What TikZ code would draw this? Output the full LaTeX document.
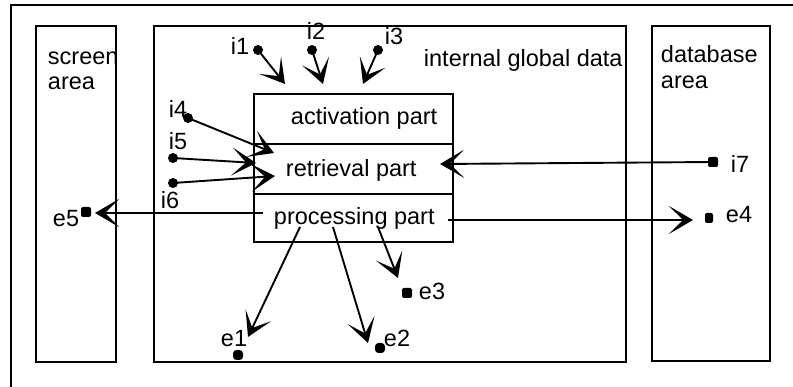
\documentclass[tikz,border=0pt]{standalone}
\usepackage{fontspec}
\setmainfont{Liberation Sans}
\usetikzlibrary{arrows.meta}
\begin{document}
\begin{tikzpicture}[x=1pt,y=-1pt,
  line width=1.9pt,
  box/.style={draw, rectangle, inner sep=0pt, anchor=north west},
  txt/.style={inner sep=0pt, anchor=base west, font=\fontsize{23.5}{26}\selectfont},
  idot/.style={circle, fill, inner sep=0pt, minimum size=10pt},
  edot/.style={rectangle, rounded corners=2pt, fill, inner sep=0pt, minimum size=10pt},
  arr/.style={-{Stealth[length=24pt,width=28pt,inset=14pt]}},
]
\useasboundingbox (0,0) rectangle (793,387);
\draw (11,387) -- (11,5) -- (793,5);
% areas
\node[box, minimum width=80pt, minimum height=336pt] (screen) at (35,25) {};
\node[box, minimum width=472pt, minimum height=336pt] (internal) at (153,25) {};
\node[box, minimum width=118pt, minimum height=335pt] (database) at (651,25) {};
% parts
\node[box, minimum width=199pt, minimum height=50pt] (act) at (253,93) {};
\node[box, minimum width=199pt, minimum height=50pt] (ret) at (253,143) {};
\node[box, minimum width=199pt, minimum height=48pt] (proc) at (253,193) {};
% texts
\node[txt] (tscreen1) at (47,65) {screen};
\node[txt] (tscreen2) at (47,90) {area};
\node[txt] (tdb1) at (660,63) {database};
\node[txt] (tdb2) at (660,89) {area};
\node[txt] (tint) at (423,67) {internal global data};
\node[txt] (tact) at (290,125) {activation part};
\node[txt] (tret) at (285,177) {retrieval part};
\node[txt] (tproc) at (273,225) {processing part};
% labels
\node[txt] (li1) at (230,55) {i1};
\node[txt] (li2) at (306,40) {i2};
\node[txt] (li3) at (384,45) {i3};
\node[txt] (li4) at (168,118) {i4};
\node[txt] (li5) at (168,150) {i5};
\node[txt] (li6) at (160,209) {i6};
\node[txt] (li7) at (730,173) {i7};
\node[txt] (le4) at (725,223) {e4};
\node[txt] (le5) at (52,227) {e5};
\node[txt] (le1) at (220,347) {e1};
\node[txt] (le2) at (383,347) {e2};
\node[txt] (le3) at (418,300) {e3};
% dots
\node[idot] (i1) at (258,50) {};
\node[idot] (i2) at (312,50) {};
\node[idot] (i3) at (378,50) {};
\node[idot] (i4) at (188,118) {};
\node[idot] (i5) at (173,158) {};
\node[idot] (i6) at (173,183) {};
\node[edot] (i7) at (713,162) {};
\node[edot, minimum width=8pt] (e4) at (709,218) {};
\node[edot] (e5) at (86,212) {};
\node[edot, rounded corners=3.5pt] (e1) at (238,355) {};
\node[edot, rounded corners=3.5pt] (e2) at (380,348) {};
\node[edot] (e3) at (407,293) {};
% tips and starts
\coordinate (t1) at (285,84);
\coordinate (t2) at (323,84);
\coordinate (t3) at (363,84);
\coordinate (t4) at (274,153);
\coordinate (t5) at (256,163);
\coordinate (t6) at (275,176);
\coordinate (t7) at (440,164);
\coordinate (te4) at (693,220);
\coordinate (te5) at (95,213);
\coordinate (te1) at (248,337);
\coordinate (te2) at (368,343);
\coordinate (te3) at (398,278);
\coordinate (se4) at (448,220);
\coordinate (se5) at (263,213);
\coordinate (se1) at (300,227);
\coordinate (se2) at (333,227);
\coordinate (se3) at (378,227);
% connectors
\draw[arr] (i1.center) -- (t1);
\draw[arr] (i2.center) -- (t2);
\draw[arr] (i3.center) -- (t3);
\draw[arr] (i4.center) -- (t4);
\draw[arr] (i5.center) -- (t5);
\draw[arr] (i6.center) -- (t6);
\draw[arr] (i7.center) -- (t7);
\draw[arr] (se4) -- (te4);
\draw[arr] (se5) -- (te5);
\draw[arr] (se1) -- (te1);
\draw[arr] (se2) -- (te2);
\draw[arr] (se3) -- (te3);
\end{tikzpicture}
\end{document}
